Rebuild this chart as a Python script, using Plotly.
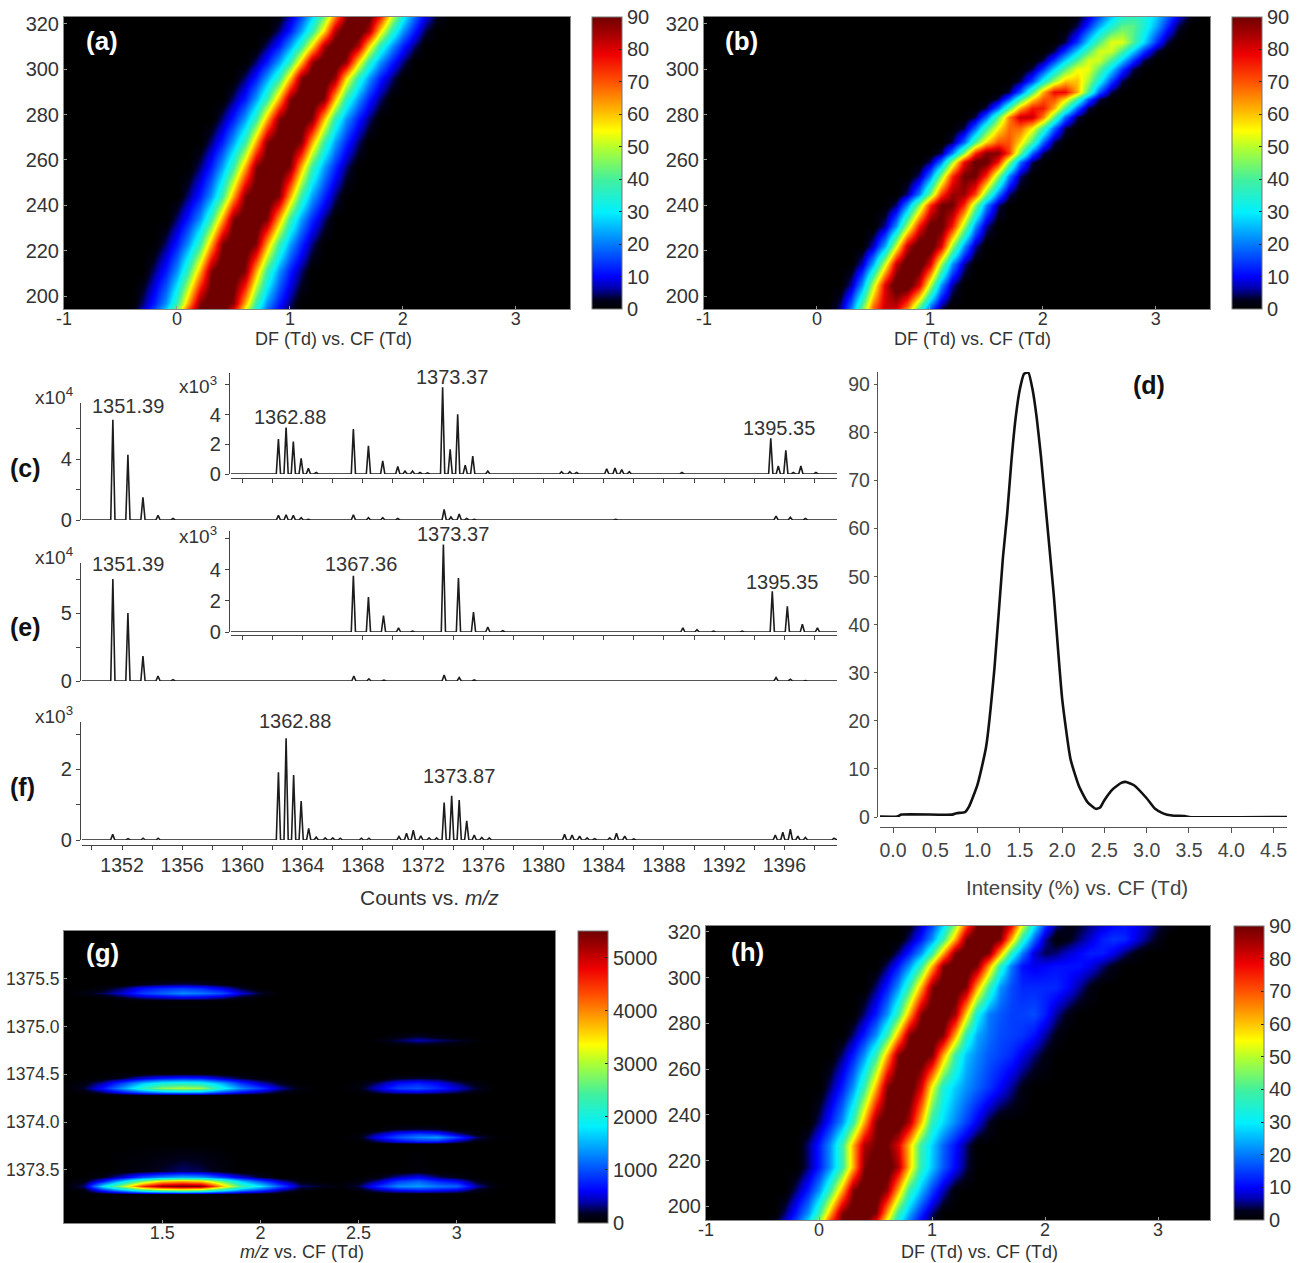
import plotly.graph_objects as go

W, H = 1297, 1263

# ---------- heat-map data ----------
GRID_X = [round(-1 + 0.1 * i, 1) for i in range(46)]

A_V = [188, 197, 211, 223, 234, 244, 257, 268, 278, 287, 296, 303, 310, 317, 326]
A_START = [-0.5, -0.4, -0.3, -0.2, -0.1, 0.0, 0.1, 0.2, 0.3, 0.4, 0.5, 0.6, 0.7, 0.8, 0.9]
A_ROWS = [
    [0, 5, 12, 22, 38, 62, 88, 95, 95, 88, 62, 38, 22, 12, 5, 0],
    [0, 5, 12, 22, 38, 62, 88, 95, 95, 88, 62, 38, 22, 12, 5, 0],
    [0, 5, 12, 22, 38, 62, 88, 95, 95, 88, 62, 38, 22, 12, 5, 0],
    [0, 5, 12, 22, 38, 62, 88, 95, 95, 88, 62, 38, 23, 13, 5, 0],
    [0, 5, 12, 22, 38, 62, 88, 95, 95, 88, 62, 38, 23, 13, 5, 0],
    [0, 5, 12, 22, 38, 62, 88, 95, 95, 88, 62, 38, 23, 13, 5, 0],
    [0, 5, 12, 23, 38, 62, 88, 95, 95, 88, 62, 38, 23, 13, 5, 0],
    [0, 5, 12, 23, 38, 62, 88, 95, 95, 88, 62, 38, 23, 13, 5, 0],
    [0, 5, 12, 23, 38, 62, 88, 95, 95, 88, 60, 36, 22, 12, 5, 0],
    [0, 5, 12, 23, 38, 62, 88, 95, 95, 88, 60, 36, 22, 12, 5, 0],
    [0, 5, 12, 23, 37, 60, 88, 95, 95, 86, 58, 36, 22, 12, 5, 0],
    [0, 5, 12, 23, 37, 60, 86, 95, 95, 86, 58, 36, 22, 12, 5, 0],
    [0, 5, 12, 23, 37, 58, 84, 95, 95, 84, 58, 36, 22, 12, 5, 0],
    [0, 5, 12, 23, 37, 58, 84, 95, 95, 84, 58, 36, 22, 12, 4, 0],
    [0, 5, 12, 23, 37, 58, 84, 95, 95, 84, 58, 36, 22, 11, 4, 0],
]

B_V = [188, 195, 205, 214, 222, 231, 240, 245, 253, 259, 263, 268, 274, 279, 283, 287, 290, 295, 300, 304, 308, 312, 319, 326]
B_START = [0.0, 0.1, 0.2, 0.3, 0.4, 0.5, 0.6, 0.7, 0.8, 0.9, 1.0, 1.1, 1.2, 1.3, 1.4, 1.5, 1.6, 1.7, 1.8, 1.9, 2.0, 2.1, 2.2, 2.3]
B_ROWS = [
    [0, 4, 14, 30, 50, 60, 60, 50, 30, 14, 4, 0],
    [0, 5, 19, 42, 68, 82, 82, 68, 42, 19, 5, 0],
    [0, 6, 22, 50, 80, 95, 95, 80, 50, 22, 6, 0],
    [0, 7, 24, 52, 82, 95, 95, 80, 48, 22, 6, 0],
    [0, 7, 24, 52, 82, 95, 95, 80, 48, 22, 6, 0],
    [0, 6, 22, 48, 76, 92, 92, 76, 48, 22, 6, 0],
    [0, 5, 21, 46, 74, 90, 90, 74, 46, 21, 5, 0],
    [0, 5, 20, 44, 72, 86, 86, 72, 44, 20, 5, 0],
    [0, 5, 20, 46, 74, 90, 90, 74, 46, 20, 5, 0],
    [0, 5, 20, 48, 78, 92, 92, 76, 46, 19, 4, 0],
    [0, 4, 20, 46, 74, 88, 88, 72, 44, 18, 4, 0],
    [0, 4, 18, 40, 58, 70, 70, 58, 40, 18, 4, 0],
    [0, 4, 18, 38, 56, 68, 68, 56, 38, 18, 4, 0],
    [0, 4, 18, 42, 66, 82, 82, 66, 42, 18, 4, 0],
    [0, 4, 18, 40, 62, 76, 76, 62, 40, 18, 4, 0],
    [0, 4, 17, 38, 58, 70, 70, 58, 38, 17, 4, 0],
    [0, 4, 17, 40, 62, 78, 78, 62, 40, 17, 4, 0],
    [0, 4, 15, 32, 48, 60, 60, 48, 32, 15, 4, 0],
    [0, 4, 14, 28, 42, 54, 54, 42, 28, 14, 4, 0],
    [0, 4, 14, 27, 40, 52, 52, 40, 27, 14, 4, 0],
    [0, 4, 14, 27, 40, 52, 52, 40, 27, 14, 4, 0],
    [0, 4, 14, 28, 41, 53, 53, 41, 28, 14, 4, 0],
    [0, 4, 13, 24, 34, 42, 42, 34, 24, 13, 4, 0],
    [0, 4, 11, 21, 29, 34, 34, 29, 21, 11, 4, 0],
]

H_V = [188, 197, 207, 217, 227, 237, 252, 266, 275, 284, 296, 305, 311, 317, 326]
H_START = [-0.5, -0.4, -0.3, -0.2, -0.2, -0.1, 0.0, 0.1, 0.2, 0.3, 0.4, 0.5, 0.6, 0.7, 0.8]
H_ROWS = [
    [0, 5, 12, 22, 38, 62, 88, 95, 95, 88, 62, 38, 22, 12, 5, 0],
    [0, 5, 12, 22, 38, 62, 88, 95, 95, 88, 62, 38, 24, 13, 5, 0],
    [0, 5, 12, 22, 38, 62, 88, 95, 95, 86, 62, 38, 25, 15, 7, 1, 0],
    [0, 5, 12, 22, 38, 62, 88, 95, 95, 84, 60, 36, 26, 17, 10, 4, 0],
    [0, 5, 12, 22, 38, 62, 84, 90, 90, 80, 60, 38, 27, 18, 11, 5, 0],
    [0, 5, 12, 22, 38, 62, 88, 95, 95, 84, 60, 36, 28, 21, 15, 9, 3, 0],
    [0, 5, 12, 22, 38, 62, 88, 95, 95, 80, 54, 34, 27, 22, 18, 14, 10, 6, 2, 0],
    [0, 5, 12, 22, 38, 62, 88, 95, 95, 88, 62, 38, 26, 21, 17, 15, 13, 9, 5, 2, 0],
    [0, 5, 12, 22, 38, 62, 88, 95, 95, 88, 62, 36, 24, 19, 16, 15, 14, 11, 6, 2, 0],
    [0, 5, 12, 22, 38, 62, 88, 95, 95, 85, 58, 32, 20, 17, 15, 15, 16, 12, 6, 2, 0],
    [0, 5, 12, 22, 38, 62, 88, 95, 95, 88, 62, 38, 22, 16, 13, 13, 13, 13, 10, 6, 2, 0],
    [0, 5, 12, 22, 38, 62, 88, 95, 95, 88, 62, 36, 20, 11, 9, 10, 11, 11, 11, 9, 5, 2, 0],
    [0, 5, 12, 22, 38, 62, 88, 95, 95, 88, 62, 36, 20, 8, 4, 5, 8, 10, 12, 12, 9, 5, 2, 0],
    [0, 5, 12, 22, 38, 62, 88, 95, 95, 88, 62, 36, 18, 6, 1, 2, 5, 8, 12, 14, 13, 9, 5, 2, 0],
    [0, 5, 12, 22, 38, 62, 88, 95, 95, 88, 62, 36, 18, 7, 2, 2, 4, 6, 8, 10, 10, 8, 5, 2, 0],
]

G_X = [1.0, 1.1, 1.2, 1.3, 1.4, 1.5, 1.6, 1.7, 1.8, 1.9, 2.0, 2.1, 2.2, 2.3, 2.4, 2.5, 2.6, 2.7, 2.8, 2.9, 3.0, 3.1, 3.2, 3.3, 3.7]
G_Y = [1372.9, 1373.25, 1373.29, 1373.33, 1373.38, 1373.43, 1373.49,
       1373.77, 1373.80, 1373.84, 1373.88, 1373.93, 1373.98,
       1374.28, 1374.32, 1374.36, 1374.41, 1374.46, 1374.51,
       1374.79, 1374.82, 1374.86, 1374.90, 1374.95,
       1375.27, 1375.31, 1375.35, 1375.40, 1375.45, 1375.50, 1376.1]
ZERO = [0] * 24
G_ROWS = [
    ZERO,
    ZERO,
    [0, 100, 800, 1500, 2300, 2700, 2900, 2700, 2000, 1300, 900, 400, 100, 0, 0, 80, 350, 600, 700, 650, 500, 150, 0, 0],
    [0, 300, 1800, 3000, 4500, 5300, 5500, 5400, 3800, 2400, 1800, 1000, 300, 200, 50, 250, 800, 1300, 1400, 1200, 1100, 400, 50, 0],
    [0, 100, 700, 1700, 2800, 3600, 3800, 3600, 2700, 1600, 1000, 450, 100, 0, 0, 80, 400, 900, 1100, 800, 600, 150, 0, 0],
    [0, 0, 150, 500, 1000, 1300, 1500, 1400, 950, 500, 200, 0, 0, 0, 0, 0, 100, 400, 600, 300, 120, 0, 0, 0],
    [0, 0, 0, 50, 100, 200, 300, 250, 100, 0, 0, 0, 0, 0, 0, 0, 0, 0, 50, 0, 0, 0, 0, 0],
    ZERO,
    [0, 0, 0, 0, 0, 0, 0, 0, 0, 0, 0, 0, 0, 0, 0, 0, 300, 600, 800, 800, 400, 100, 0, 0],
    [0, 0, 0, 0, 0, 0, 0, 0, 0, 0, 0, 0, 0, 0, 0, 100, 600, 1000, 1250, 1400, 900, 300, 30, 0],
    [0, 0, 0, 0, 0, 0, 0, 0, 0, 0, 0, 0, 0, 0, 0, 30, 400, 750, 950, 850, 400, 80, 0, 0],
    [0, 0, 0, 0, 0, 0, 0, 0, 0, 0, 0, 0, 0, 0, 0, 0, 0, 150, 200, 150, 0, 0, 0, 0],
    ZERO,
    ZERO,
    [0, 60, 300, 700, 1100, 1400, 1500, 1450, 1000, 650, 400, 150, 30, 0, 0, 30, 250, 450, 500, 400, 250, 80, 0, 0],
    [0, 200, 700, 1400, 2200, 2800, 3000, 2900, 2000, 1300, 900, 400, 100, 0, 0, 100, 500, 900, 1000, 800, 500, 200, 0, 0],
    [0, 100, 400, 950, 1600, 2000, 2100, 2000, 1500, 850, 450, 150, 0, 0, 0, 50, 300, 650, 750, 600, 300, 80, 0, 0],
    [0, 0, 50, 200, 500, 700, 800, 750, 450, 200, 50, 0, 0, 0, 0, 0, 0, 150, 200, 150, 0, 0, 0, 0],
    ZERO,
    ZERO,
    [0, 0, 0, 0, 0, 0, 0, 0, 0, 0, 0, 0, 0, 0, 0, 0, 0, 80, 150, 120, 60, 0, 0, 0],
    [0, 0, 0, 0, 0, 0, 0, 0, 0, 0, 0, 0, 0, 0, 0, 0, 50, 250, 400, 300, 200, 50, 0, 0],
    [0, 0, 0, 0, 0, 0, 0, 0, 0, 0, 0, 0, 0, 0, 0, 0, 0, 80, 180, 80, 0, 0, 0, 0],
    ZERO,
    ZERO,
    [0, 0, 50, 200, 400, 500, 600, 550, 400, 150, 50, 0, 0, 0, 0, 0, 0, 0, 0, 0, 0, 0, 0, 0],
    [0, 100, 250, 500, 900, 1100, 1300, 1200, 1000, 500, 200, 0, 0, 0, 0, 0, 0, 0, 0, 0, 0, 0, 0, 0],
    [0, 0, 100, 300, 650, 800, 900, 800, 550, 200, 0, 0, 0, 0, 0, 0, 0, 0, 0, 0, 0, 0, 0, 0],
    [0, 0, 0, 0, 100, 200, 250, 200, 80, 0, 0, 0, 0, 0, 0, 0, 0, 0, 0, 0, 0, 0, 0, 0],
    ZERO,
    ZERO,
]

# ---------- spectra: peak m/z and heights ----------
C_MAIN_MZ = [1351.39, 1352.39, 1353.39, 1354.39, 1355.39, 1362.39, 1362.9, 1363.38, 1363.9, 1364.38, 1367.37, 1368.37, 1369.32, 1370.32, 1373.4, 1373.85, 1374.4, 1374.9, 1375.4, 1384.8, 1395.45, 1396.4, 1397.4]
C_MAIN_H = [6.6, 4.3, 1.5, 0.3, 0.1, 0.3, 0.35, 0.3, 0.15, 0.05, 0.35, 0.15, 0.15, 0.1, 0.7, 0.2, 0.4, 0.1, 0.05, 0.05, 0.25, 0.18, 0.1]
C_INS_MZ = [1362.39, 1362.9, 1363.38, 1363.9, 1364.38, 1364.9, 1367.37, 1368.37, 1369.32, 1370.32, 1370.8, 1371.3, 1371.8, 1372.3, 1373.3, 1373.8, 1374.3, 1374.8, 1375.3, 1376.3, 1381.2, 1381.75, 1382.2, 1384.2, 1384.75, 1385.2, 1385.7, 1389.2, 1390.1, 1395.1, 1395.6, 1396.1, 1396.6, 1397.1, 1398.1]
C_INS_H = [2.36, 3.12, 2.18, 1.05, 0.38, 0.1, 3.03, 1.9, 0.88, 0.5, 0.2, 0.2, 0.1, 0.08, 5.84, 1.66, 4.02, 0.6, 1.2, 0.2, 0.15, 0.15, 0.1, 0.35, 0.4, 0.3, 0.15, 0.1, 0.05, 2.4, 0.55, 1.6, 0.1, 0.55, 0.1]
E_MAIN_MZ = [1351.39, 1352.39, 1353.39, 1354.39, 1355.39, 1367.4, 1368.4, 1369.4, 1373.4, 1374.4, 1375.4, 1395.45, 1396.4, 1397.4]
E_MAIN_H = [7.5, 5.0, 1.84, 0.37, 0.1, 0.37, 0.15, 0.07, 0.44, 0.25, 0.08, 0.25, 0.12, 0.03]
E_INS_MZ = [1367.37, 1368.37, 1369.37, 1370.37, 1371.3, 1373.35, 1374.35, 1375.35, 1376.3, 1377.3, 1389.26, 1390.2, 1391.3, 1393.2, 1395.2, 1396.2, 1397.2, 1398.2]
E_INS_H = [3.6, 2.24, 1.05, 0.26, 0.05, 5.6, 3.46, 1.28, 0.32, 0.08, 0.26, 0.15, 0.05, 0.05, 2.6, 1.64, 0.5, 0.26]
F_MZ = [1351.38, 1352.4, 1353.4, 1354.4, 1362.39, 1362.9, 1363.4, 1363.9, 1364.4, 1364.9, 1365.5, 1366.0, 1366.5, 1367.9, 1368.4, 1370.4, 1370.9, 1371.35, 1371.85, 1372.4, 1372.9, 1373.4, 1373.9, 1374.4, 1374.9, 1375.4, 1375.9, 1376.4, 1381.4, 1381.9, 1382.4, 1382.9, 1383.4, 1384.4, 1384.85, 1385.4, 1386.0, 1395.4, 1395.9, 1396.4, 1396.9, 1397.4, 1399.3]
F_H = [0.16, 0.04, 0.05, 0.05, 1.92, 2.88, 1.84, 1.1, 0.33, 0.08, 0.06, 0.06, 0.05, 0.05, 0.05, 0.1, 0.19, 0.28, 0.12, 0.06, 0.06, 1.06, 1.25, 1.13, 0.54, 0.14, 0.07, 0.06, 0.16, 0.14, 0.11, 0.06, 0.04, 0.06, 0.19, 0.11, 0.03, 0.14, 0.22, 0.31, 0.11, 0.07, 0.05]

# ---------- panel (d) ----------
D_CF = [-0.19, 0.05, 0.1, 0.7, 0.75, 0.85, 0.9, 1.0, 1.1, 1.2, 1.3, 1.35, 1.4, 1.45, 1.5, 1.55, 1.6, 1.65, 1.7, 1.75, 1.8, 1.9, 2.0, 2.1, 2.2, 2.3, 2.4, 2.45, 2.5, 2.6, 2.7, 2.75, 2.85, 3.0, 3.1, 3.2, 3.3, 3.45, 3.5, 4.66]
D_PCT = [0.1, 0.1, 0.5, 0.5, 0.8, 1.0, 2.2, 6.8, 14.5, 31, 54, 63, 74, 83, 89, 92.2, 92.5, 89, 83, 75, 65.5, 46.5, 24.7, 12, 6.4, 3.1, 1.7, 2.0, 3.5, 5.8, 7.1, 7.3, 6.6, 3.9, 1.7, 0.7, 0.3, 0.2, 0.0, 0.0]

# ---------- text ----------
PANEL_TICKS_Y = [200, 220, 240, 260, 280, 300, 320]
PANEL_TICKS_X = [-1, 0, 1, 2, 3]
PANEL_LABELS_X = ["-1", "0", "1", "2", "3"]
CB_TICKS = [0, 10, 20, 30, 40, 50, 60, 70, 80, 90]
G_CB_TICKS = [0, 1000, 2000, 3000, 4000, 5000]
G_TICKS_X = [1.5, 2, 2.5, 3]
G_TICKS_Y = [1373.5, 1374.0, 1374.5, 1375.0, 1375.5]
MZ_TICKS = list(range(1350, 1400, 2))
MZ_LABELS = [str(v) if v % 4 == 0 else "" for v in MZ_TICKS]
D_TICKS_X = [0.0, 0.5, 1.0, 1.5, 2.0, 2.5, 3.0, 3.5, 4.0, 4.5]
D_TICKS_Y = [0, 10, 20, 30, 40, 50, 60, 70, 80, 90]

JET = [
    [0.00, "#000000"], [0.03, "#00001c"], [0.07, "#0000a8"], [0.11, "#0000ff"],
    [0.22, "#0078ff"], [0.33, "#00f0ff"], [0.44, "#40f0a0"], [0.55, "#b0ff30"],
    [0.61, "#ffff00"], [0.67, "#ffc000"], [0.78, "#ff5000"], [0.87, "#f00000"],
    [0.94, "#a80000"], [1.00, "#700000"],
]

SANS = "Liberation Sans, Arial, sans-serif"
NARROW = "Liberation Sans Narrow, Liberation Sans, Arial, sans-serif"
TXT = "#333333"


def dx(l, r):
    return [l / W, r / W]


def dy(t, b):
    return [1 - b / H, 1 - t / H]


def expand(start, values):
    row = [0] * len(GRID_X)
    i0 = round((start + 1) * 10)
    for i, v in enumerate(values):
        row[i0 + i] = v
    return row


def stems(mz, heights, lo, hi, w=0.14):
    xs, ys = [lo], [0]
    for m, h in sorted(zip(mz, heights)):
        xs += [m - w, m, m + w]
        ys += [0, h, 0]
    return xs + [hi], ys + [0]


fig = go.Figure()


def heat(x, y, z, n, zmax, cb_left, cb_top, cb_h, cb_ticks):
    fig.add_trace(go.Heatmap(
        x=x, y=y, z=z, xaxis=f"x{n}", yaxis=f"y{n}", zmin=0, zmax=zmax, zsmooth="best",
        colorscale=JET, hoverinfo="skip",
        colorbar=dict(
            x=cb_left / W, xanchor="left", y=1 - cb_top / H, yanchor="top",
            lenmode="pixels", len=cb_h, thicknessmode="pixels", thickness=30,
            xpad=0, ypad=0, outlinecolor="#777777", outlinewidth=1,
            tickvals=cb_ticks, ticks="inside", ticklen=3, tickcolor="#222222",
            tickfont=dict(family=NARROW, size=20, color=TXT),
        ),
    ))


heat(GRID_X, A_V, [expand(s, r) for s, r in zip(A_START, A_ROWS)], 1, 90, 592, 17, 292, CB_TICKS)
heat(GRID_X, B_V, [expand(s, r) for s, r in zip(B_START, B_ROWS)], 2, 90, 1232, 17, 292, CB_TICKS)
heat(G_X, G_Y, [r + [0] for r in G_ROWS], 9, 5500, 578, 931, 292, G_CB_TICKS)
heat(GRID_X, H_V, [expand(s, r) for s, r in zip(H_START, H_ROWS)], 10, 90, 1234, 926, 294, CB_TICKS)


def spec(mz, h, n, lo, hi):
    xs, ys = stems(mz, h, lo, hi)
    fig.add_trace(go.Scatter(x=xs, y=ys, xaxis=f"x{n}", yaxis=f"y{n}", mode="lines",
                             line=dict(color="#1c1c1c", width=1.6), cliponaxis=False,
                             hoverinfo="skip", showlegend=False))


MZ_LO, MZ_HI = 1349.34, 1399.5
INS_LO = 1359.24
spec(C_MAIN_MZ, C_MAIN_H, 3, MZ_LO, MZ_HI)
spec(C_INS_MZ, C_INS_H, 4, INS_LO, MZ_HI)
spec(E_MAIN_MZ, E_MAIN_H, 5, MZ_LO, MZ_HI)
spec(E_INS_MZ, E_INS_H, 6, INS_LO, MZ_HI)
spec(F_MZ, F_H, 7, MZ_LO, MZ_HI)

fig.add_trace(go.Scatter(x=D_CF, y=D_PCT, xaxis="x8", yaxis="y8", mode="lines",
                         line=dict(color="#111111", width=2.6, shape="spline", smoothing=0.5),
                         cliponaxis=False, hoverinfo="skip", showlegend=False))

layout = dict(
    width=W, height=H, margin=dict(l=0, r=0, t=0, b=0, pad=0, autoexpand=False), autosize=False,
    paper_bgcolor="white", plot_bgcolor="white", showlegend=False,
    font=dict(family=SANS, color=TXT),
)


def heat_axes(n, xdom, ydom, xrange, yrange, xt, yt, xtxt=None, ytxt=None, ysize=20):
    layout[f"xaxis{n}"] = dict(
        domain=xdom, range=xrange, anchor=f"y{n}", tickvals=xt, ticktext=xtxt, showgrid=False, zeroline=False,
        ticks="inside", ticklen=3, tickcolor="#999999", showline=True, linecolor="#888888", linewidth=1, mirror=True,
        ticklabelstandoff=-7, tickfont=dict(family=NARROW, size=18, color=TXT))
    layout[f"yaxis{n}"] = dict(
        domain=ydom, range=yrange, anchor=f"x{n}", tickvals=yt, ticktext=ytxt, showgrid=False, zeroline=False,
        ticks="inside", ticklen=3, tickcolor="#999999", showline=True, linecolor="#888888", linewidth=1, mirror=True,
        tickfont=dict(family=NARROW, size=ysize, color=TXT))


heat_axes(1, dx(64, 570), dy(17, 309), [-1, 3.48], [194.3, 323], PANEL_TICKS_X, PANEL_TICKS_Y, PANEL_LABELS_X)
heat_axes(2, dx(704, 1210), dy(17, 309), [-1, 3.48], [194.3, 323], PANEL_TICKS_X, PANEL_TICKS_Y, PANEL_LABELS_X)
heat_axes(9, dx(64, 555), dy(931, 1223), [1.0, 3.5], [1372.945, 1376.0], G_TICKS_X, G_TICKS_Y,
          ["1.5", "2", "2.5", "3"], ["1373.5", "1374.0", "1374.5", "1375.0", "1375.5"], ysize=17.5)
heat_axes(10, dx(706, 1210), dy(926, 1220), [-1, 3.46], [194, 322.6], PANEL_TICKS_X, PANEL_TICKS_Y, PANEL_LABELS_X)


def spec_axes(n, left, top, base, ymax, ytv, ytt, axis_y=None, xlabels=False, lo=MZ_LO):
    left_px = 82 if lo == MZ_LO else 231
    ax_x = 80 if lo == MZ_LO else 229
    x = dict(domain=dx(left_px, 837), range=[lo, MZ_HI], showgrid=False, zeroline=False)
    if axis_y is None:
        x.update(anchor=f"y{n}", visible=False)
    else:
        x.update(anchor="free", position=1 - axis_y / H, showline=True, linecolor="#444444", linewidth=1.4,
                 ticks="outside", ticklen=4, tickcolor="#444444", tickvals=MZ_TICKS, ticklabelstandoff=-2,
                 ticktext=MZ_LABELS if xlabels else [""] * len(MZ_TICKS),
                 tickfont=dict(family=SANS, size=19.5, color=TXT))
    layout[f"xaxis{n}"] = x
    layout[f"yaxis{n}"] = dict(
        domain=dy(top, base), range=[0, ymax], anchor="free", position=ax_x / W, showgrid=False, zeroline=False,
        showline=True, linecolor="#444444", linewidth=1.4, ticks="outside", ticklen=4, tickcolor="#444444",
        tickvals=ytv, ticktext=ytt, tickfont=dict(family=SANS, size=20, color=TXT))


spec_axes(3, 82, 403, 520, 7.7, [0, 2, 4, 6], ["0", "", "4", ""])
spec_axes(4, 231, 373, 474, 6.8, [0, 2, 4, 6], ["0", "2", "4", ""], axis_y=478, lo=INS_LO)
spec_axes(5, 82, 563, 681, 8.68, [0, 2.5, 5, 7.5], ["0", "", "5", ""])
spec_axes(6, 231, 531, 632, 6.47, [0, 2, 4, 6], ["0", "2", "4", ""], axis_y=635, lo=INS_LO)
spec_axes(7, 82, 722, 840, 3.34, [0, 1, 2, 3], ["0", "", "2", ""], axis_y=845, xlabels=True)

layout["xaxis8"] = dict(
    domain=dx(880, 1287), range=[-0.154, 4.66], anchor="free", position=1 - 827 / H, showgrid=False, zeroline=False,
    showline=True, linecolor="#555555", linewidth=1.4, ticks="outside", ticklen=5, tickcolor="#555555",
    tickvals=D_TICKS_X, ticktext=[f"{v:.1f}" for v in D_TICKS_X], tickfont=dict(family=SANS, size=19.5, color="#444444"))
layout["yaxis8"] = dict(
    domain=dy(372, 817), range=[0, 92.6], anchor="free", position=877 / W, showgrid=False, zeroline=False,
    showline=True, linecolor="#555555", linewidth=1.4, ticks="outside", ticklen=3, tickcolor="#555555",
    tickvals=D_TICKS_Y, tickfont=dict(family=SANS, size=19.5, color="#444444"))


def note(x, y, text, size=20, color=TXT, family=SANS, bold=False):
    if bold:
        text = f"<b>{text}</b>"
    return dict(x=x / W, y=1 - y / H, xref="paper", yref="paper", text=text, showarrow=False,
                xanchor="center", yanchor="middle", font=dict(family=family, size=size, color=color))


notes = [
    note(102, 41, "(a)", 26, "white", bold=True), note(741, 41, "(b)", 26, "white", bold=True),
    note(102, 953, "(g)", 26, "white", bold=True), note(747, 952, "(h)", 26, "white", bold=True),
    note(25, 468, "(c)", 25, "#111111", bold=True), note(25, 627, "(e)", 25, "#111111", bold=True),
    note(23, 787, "(f)", 25, "#111111", bold=True), note(1149, 385, "(d)", 25, "#111111", bold=True),
    note(333, 339, "DF (Td) vs. CF (Td)", 18, TXT, NARROW), note(972, 339, "DF (Td) vs. CF (Td)", 18, TXT, NARROW),
    note(979, 1252, "DF (Td) vs. CF (Td)", 18, TXT, NARROW), note(302, 1252, "<i>m/z</i> vs. CF (Td)", 18, TXT, NARROW),
    note(429, 897, "Counts vs. <i>m/z</i>", 21), note(1077, 887, "Intensity (%) vs. CF (Td)", 20.5, "#444444"),
    note(54, 396, "x10<sup>4</sup>", 19), note(198, 385, "x10<sup>3</sup>", 19),
    note(54, 556, "x10<sup>4</sup>", 19), note(198, 535, "x10<sup>3</sup>", 19), note(54, 715, "x10<sup>3</sup>", 19),
    note(128, 406, "1351.39"), note(290, 417, "1362.88"), note(452, 377, "1373.37"), note(779, 428, "1395.35"),
    note(128, 564, "1351.39"), note(361, 564, "1367.36"), note(453, 534, "1373.37"), note(782, 582, "1395.35"),
    note(295, 721, "1362.88"), note(459, 776, "1373.87"),
]
layout["annotations"] = notes
fig.update_layout(**layout)

fig.write_html("out.html", config={"displayModeBar": False},
               post_script="document.body.style.margin='0';")
